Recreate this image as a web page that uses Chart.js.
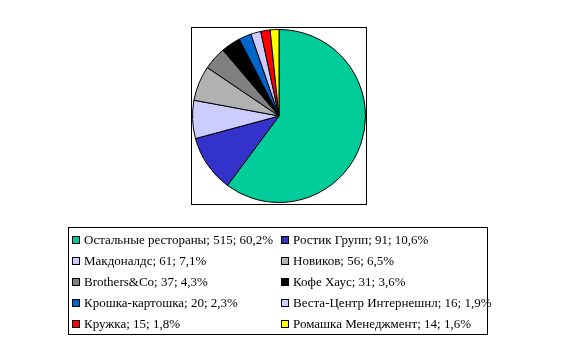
<!DOCTYPE html>
<html>
<head>
<meta charset="utf-8">
<script src="https://cdn.jsdelivr.net/npm/chart.js@4/dist/chart.umd.min.js"></script>
<style>
    body { margin: 0; background: #fff; }
    canvas { display: block; }
</style>
</head>
<body>
<canvas id="pieChart" width="561" height="345"></canvas>
<script>
// Данные диаграммы
const labels = ['Остальные рестораны', 'Ростик Групп', 'Макдоналдс', 'Новиков', 'Brothers&Co',
    'Кофе Хаус', 'Крошка-картошка', 'Веста-Центр Интернешнл', 'Кружка', 'Ромашка Менеджмент'];
const values = [515, 91, 61, 56, 37, 31, 20, 16, 15, 14];
const colors = ['#00CC99', '#3333CC', '#CCCCFF', '#B2B2B2', '#808080',
    '#000000', '#0066CC', '#CCCCFF', '#FF0000', '#FFFF00'];

const total = values.reduce((a, b) => a + b, 0);

// Рамки и легенда в две колонки (как в Excel)
const frameLegend = {
    id: 'frameLegend',
    afterDraw(chart) {
        const ctx = chart.ctx;
        ctx.save();
        ctx.strokeStyle = '#000';
        ctx.lineWidth = 1;
        ctx.strokeRect(191.5, 27.5, 175, 177);
        ctx.strokeRect(68.5, 227.5, 419, 107);

        ctx.font = "13px 'Liberation Serif'";
        ctx.textBaseline = 'middle';
        ctx.fillStyle = '#000';
        labels.forEach((name, i) => {
            const pct = (values[i] / total * 100).toFixed(1).replace('.', ',');
            const x = i % 2 === 0 ? 72 : 281;
            const y = 240 + Math.floor(i / 2) * 21;
            ctx.fillStyle = colors[i];
            ctx.fillRect(x, y - 4, 8, 8);
            ctx.strokeRect(x + 0.5, y - 3.5, 7, 7);
            ctx.fillStyle = '#000';
            ctx.fillText(name + '; ' + values[i] + '; ' + pct + '%', x + 12, y + 1);
        });
        ctx.restore();
    }
};

new Chart(document.getElementById('pieChart').getContext('2d'), {
    type: 'pie',
    data: {
        labels: labels,
        datasets: [{
            data: values,
            backgroundColor: colors,
            borderColor: '#000',
            borderWidth: 1
        }]
    },
    options: {
        responsive: false,
        animation: false,
        layout: { padding: { left: 192, top: 28, right: 195, bottom: 141 } },
        plugins: {
            legend: { display: false },
            tooltip: { enabled: false }
        }
    },
    plugins: [frameLegend]
});
</script>
</body>
</html>
